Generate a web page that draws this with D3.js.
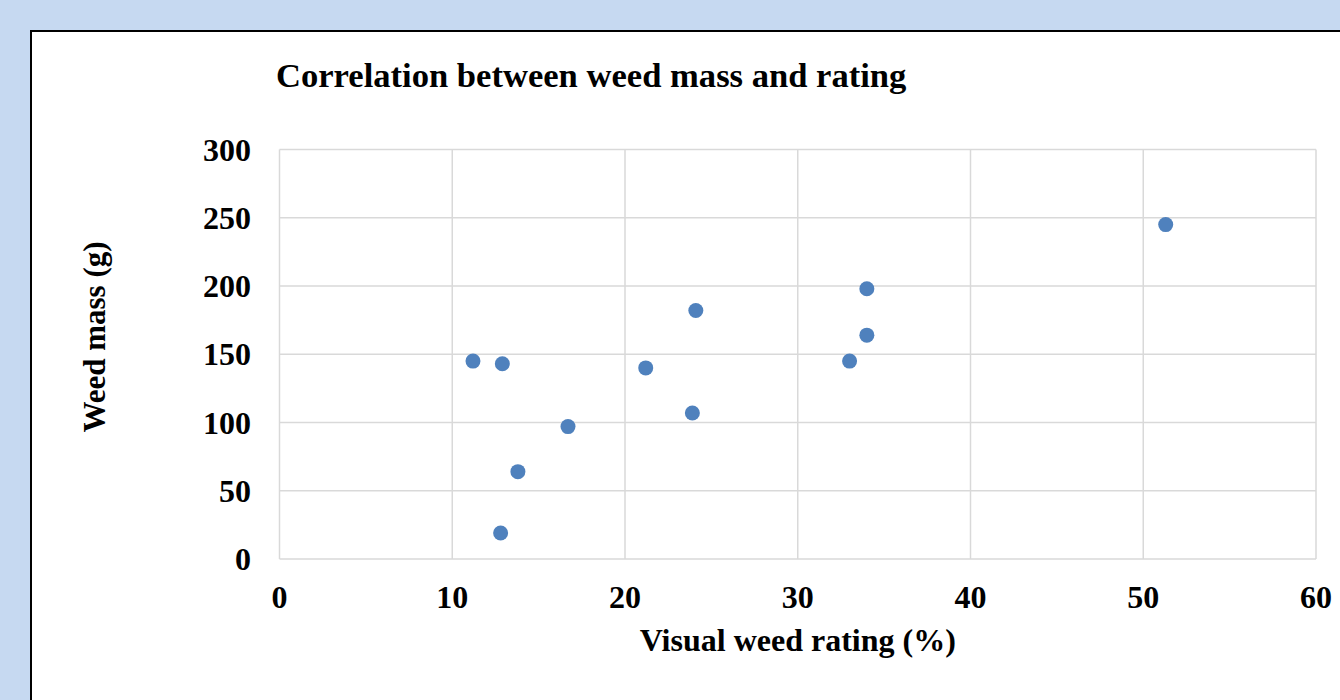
<!DOCTYPE html>
<html>
<head>
<meta charset="utf-8">
<script src="https://cdn.jsdelivr.net/npm/d3@7"></script>
<style>
  html, body { margin: 0; padding: 0; background: #c6d9f1; }
  text { font-family: "Liberation Serif", "Times New Roman", serif; font-weight: bold; fill: #000; }
</style>
</head>
<body>
<script>
// visual weed rating (%) and weed mass (g)
var rating = [11.2, 12.9, 12.8, 13.8, 16.7, 21.2, 23.9, 24.1, 33.0, 34.0, 34.0, 51.3];
var mass   = [145,  143,  19,   64,   97,   140,  107,  182,  145,  164,  198,  245];
var xTicks = [0, 10, 20, 30, 40, 50, 60];
var yTicks = [0, 50, 100, 150, 200, 250, 300];

var width = 1340, height = 700;
var svg = d3.select("body").append("svg").attr("width", width).attr("height", height);

// chart box
svg.append("rect").attr("x", 31).attr("y", 31).attr("width", width).attr("height", height)
    .attr("fill", "#fff").attr("stroke", "#000").attr("stroke-width", 2);

var x = d3.scaleLinear().domain([0, 60]).range([279.5, 1316]);
var y = d3.scaleLinear().domain([0, 300]).range([559, 149.5]);

// gridlines
svg.append("g").selectAll("line").data(yTicks).enter().append("line")
    .attr("x1", x(0)).attr("x2", x(60))
    .attr("y1", function(d){return y(d);}).attr("y2", function(d){return y(d);})
    .attr("stroke", "#d9d9d9").attr("stroke-width", 1.5);
svg.append("g").selectAll("line").data(xTicks).enter().append("line")
    .attr("y1", y(0)).attr("y2", y(300))
    .attr("x1", function(d){return x(d);}).attr("x2", function(d){return x(d);})
    .attr("stroke", "#d9d9d9").attr("stroke-width", 1.5);

// tick labels
svg.append("g").selectAll("text").data(yTicks).enter().append("text")
    .attr("x", 251).attr("y", function(d){return y(d) + 11;})
    .attr("text-anchor", "end").attr("font-size", 32)
    .text(function(d){return d;});
svg.append("g").selectAll("text").data(xTicks).enter().append("text")
    .attr("x", function(d){return x(d);}).attr("y", 608)
    .attr("text-anchor", "middle").attr("font-size", 32)
    .text(function(d){return d;});

// titles
svg.append("text").attr("x", 276).attr("y", 87).attr("font-size", 34.6)
    .text("Correlation between weed mass and rating");
svg.append("text").attr("x", (x(0) + x(60)) / 2).attr("y", 651)
    .attr("text-anchor", "middle").attr("font-size", 32)
    .text("Visual weed rating (%)");
svg.append("text").attr("transform", "translate(105,337) rotate(-90)")
    .attr("text-anchor", "middle").attr("font-size", 31)
    .text("Weed mass (g)");

// points
svg.append("g").selectAll("circle").data(rating).enter().append("circle")
    .attr("cx", function(d){return x(d);})
    .attr("cy", function(d, i){return y(mass[i]);})
    .attr("r", 7.5)
    .attr("fill", "#4f81bd");
</script>
</body>
</html>
